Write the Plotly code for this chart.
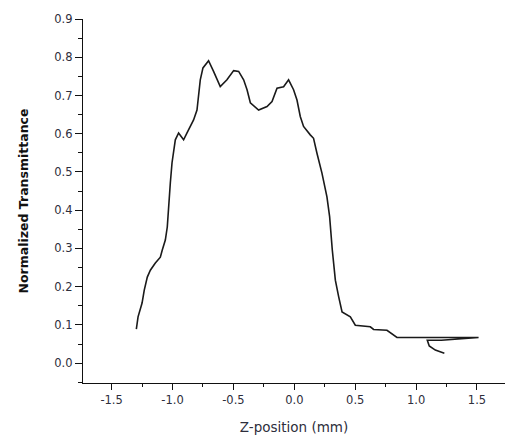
import plotly.graph_objects as go

# Z-scan trace (mm, normalized transmittance)
z_position = [-1.297, -1.283, -1.250, -1.232, -1.207, -1.182, -1.141, -1.100, -1.084, -1.059,
              -1.043, -1.026, -1.018, -1.004, -0.977, -0.950, -0.922, -0.909, -0.881, -0.854,
              -0.827, -0.799, -0.786, -0.772, -0.750, -0.704, -0.663, -0.608, -0.553, -0.498,
              -0.457, -0.416, -0.388, -0.361, -0.293, -0.224, -0.183, -0.142, -0.088, -0.047,
              -0.006, 0.022, 0.049, 0.076, 0.131, 0.158, 0.186, 0.227, 0.268, 0.290,
              0.312, 0.337, 0.364, 0.392, 0.460, 0.501, 0.624, 0.651, 0.761, 0.843,
              1.513, 1.207, 1.092, 1.108, 1.158, 1.232]
transmittance = [0.089, 0.121, 0.157, 0.191, 0.225, 0.243, 0.262, 0.277, 0.296, 0.322,
                 0.356, 0.419, 0.471, 0.524, 0.584, 0.602, 0.589, 0.584, 0.602, 0.618,
                 0.636, 0.662, 0.697, 0.741, 0.772, 0.791, 0.763, 0.723, 0.741, 0.765,
                 0.763, 0.741, 0.715, 0.681, 0.662, 0.671, 0.684, 0.719, 0.723, 0.741,
                 0.715, 0.688, 0.645, 0.619, 0.597, 0.588, 0.549, 0.497, 0.435, 0.383,
                 0.296, 0.217, 0.174, 0.134, 0.121, 0.099, 0.095, 0.088, 0.086, 0.067,
                 0.067, 0.060, 0.060, 0.045, 0.034, 0.026]

x_tickvals = [-1.5, -1.0, -0.5, 0.0, 0.5, 1.0, 1.5]
x_ticktext = ["-1.5", "-1.0", "-0.5", "0.0", "0.5", "1.0", "1.5"]
y_tickvals = [0.0, 0.1, 0.2, 0.3, 0.4, 0.5, 0.6, 0.7, 0.8, 0.9]
y_ticktext = ["0.0", "0.1", "0.2", "0.3", "0.4", "0.5", "0.6", "0.7", "0.8", "0.9"]

fig = go.Figure()
fig.add_trace(go.Scatter(
    x=z_position, y=transmittance, mode="lines",
    line=dict(color="#1a1a1a", width=1.6),
    showlegend=False,
))

tickfont = dict(family="DejaVu Sans", size=11.5, color="#2e2e3c")

fig.update_layout(
    width=505, height=436,
    margin=dict(l=83, r=0, t=19, b=53),
    paper_bgcolor="white", plot_bgcolor="white",
    xaxis=dict(
        range=[-1.735, 1.73], showgrid=False, zeroline=False,
        showline=True, linecolor="#111111", linewidth=1.4,
        ticks="outside", ticklen=6, tickwidth=1.4, tickcolor="#111111",
        tickvals=x_tickvals, ticktext=x_ticktext, tickfont=tickfont,
        minor=dict(dtick=0.25, ticks="outside", ticklen=3, tickwidth=1.4, tickcolor="#111111", showgrid=False),
        title=dict(text="Z-position (mm)", font=dict(family="DejaVu Sans", size=13.5, color="#2e2e3c"), standoff=16),
        automargin=False,
    ),
    yaxis=dict(
        range=[-0.052, 0.9], showgrid=False, zeroline=False,
        showline=True, linecolor="#111111", linewidth=1.4,
        ticks="outside", ticklen=7, tickwidth=1.4, tickcolor="#111111",
        tickvals=y_tickvals, ticktext=y_ticktext, tickfont=tickfont,
        minor=dict(dtick=0.05, ticks="outside", ticklen=4, tickwidth=1.4, tickcolor="#111111", showgrid=False),
        title=dict(text="<b>Normalized Transmittance</b>", font=dict(family="DejaVu Sans", size=12.5, color="#111111"), standoff=22),
        automargin=False,
    ),
)

fig.write_html("out.html")
